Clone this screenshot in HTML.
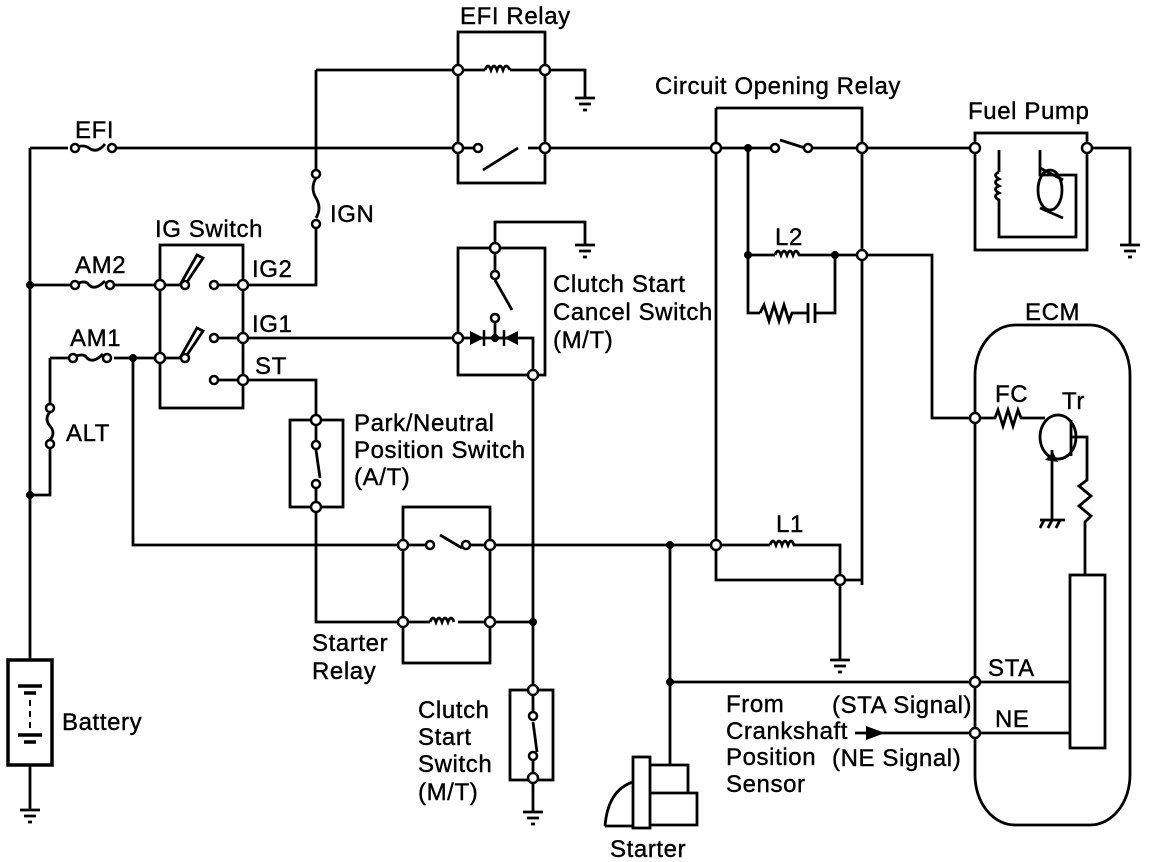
<!DOCTYPE html>
<html><head><meta charset="utf-8"><style>
html,body{margin:0;padding:0;background:#fff;}
svg{display:block;}
text{font-family:"Liberation Sans",Arial,sans-serif;font-size:24px;letter-spacing:0.6px;fill:#000;stroke:#000;stroke-width:0.4px;}
</style></head><body>
<svg width="1152" height="862" viewBox="0 0 1152 862" xmlns="http://www.w3.org/2000/svg">
<g fill="none" stroke="#000" stroke-width="2.8" stroke-linejoin="miter">
<path d="M30 148 V660 M30 765 V810"/>
<path d="M30 148 H68 M116 148 H458"/>
<path d="M75 148 q8 -4 14 0 q8 6 16 -4"/>
<rect x="458" y="32" width="87" height="151"/>
<path d="M316 70 H458 M458 70 H485 M510 70 H545 H585 V98"/>
<path d="M485 70 q3 -8 6 0 q3 -8 6 0 q3 -8 6 0 q3 -8 7 0"/>
<path d="M458 148 H473 M483 170 L518 148 M528 148 H716"/>
<path d="M316 70 V170 M316 220 V285 H243"/>
<path d="M316 178 q-6 10 0 20 q6 10 0 20"/>
<path d="M30 285 H70 M114 285 H160"/>
<path d="M75 285 q10 -6 14 0 q6 6 16 -4"/>
<rect x="160" y="245" width="83" height="163"/>
<path d="M160 285 H180 M180 285 L197 255 L203 258 L185 285"/>
<path d="M218 285 H243 M218 338 H243 M218 380 H243"/>
<path d="M160 358 H180 M180 358 L197 328 L203 331 L185 358"/>
<path d="M50 358 H70 M114 358 H160 M133 358 V545 H403"/>
<path d="M73 358 q10 -6 14 0 q6 6 16 -4"/>
<path d="M50 358 V412 M50 440 V495 H30"/>
<path d="M50 412 q-6 7 0 14 q6 7 0 14"/>
<path d="M243 338 H458"/>
<rect x="458" y="248" width="87" height="127"/>
<path d="M458 338 H533 V375"/>
<path d="M495 248 V222 H585 V245"/>
<path d="M495 248 V270 M495 280 L512 310 M495 322 V338"/>
<path d="M243 380 H316 V420"/>
<rect x="290" y="420" width="53" height="87"/>
<path d="M316 420 V440 M316 450 L320 478 M316 488 V507 V622 H403"/>
<rect x="403" y="507" width="87" height="156"/>
<path d="M403 545 H425 M440 535 L462 548 M462 545 H716"/>
<path d="M403 622 H430 M458 622 H490 H533"/>
<path d="M430 622 q3 -8 6 0 q3 -8 6 0 q3 -8 6 0 q3 -8 6 0"/>
<path d="M533 375 V690 M533 778 V812"/>
<rect x="510" y="690" width="43" height="90"/>
<path d="M533 690 V712 M533 722 L537 752 M533 760 V778"/>
<path d="M670 545 V765 M670 682 H975"/>
<rect x="633" y="757" width="17" height="71"/>
<path d="M650 765 H688 V793 M650 793 H697 V825 H650"/>
<path d="M605 826 H633 M605 826 Q608 790 633 782"/>
<path d="M716 108 H862 V585 M716 108 V580 H862"/>
<path d="M716 148 H770 M780 140 L805 148 M808 148 H975"/>
<path d="M748 148 V313 H760 M748 255 H775 M810 255 H835 H932 V418 H975"/>
<path d="M775 255 q3 -8 6 0 q3 -8 6 0 q3 -8 6 0 q3 -8 6 0 H810"/>
<path d="M835 255 V313 H815 M760 313 l4 -8 l5 16 l5 -16 l5 16 l5 -16 l5 16 l3 -8 H808 M808 303 V323 M815 303 V323"/>
<path d="M716 545 H770 M805 545 H840 V660"/>
<path d="M770 545 q3 -8 6 0 q3 -8 6 0 q3 -8 6 0 q3 -8 6 0 H805"/>
<rect x="975" y="133" width="112" height="117"/>
<path d="M1087 148 H1130 V245"/>
<path d="M999 150 V172 M999 205 V237 H1076 V175 H1040 V150"/>
<path d="M999 172 q-7 3 0 7 q-7 3 0 7 q-7 3 0 7 q-7 3 0 7 V205"/>
<ellipse cx="1050" cy="190" rx="12" ry="20"/>
<path d="M1040 168 L1063 180 M1040 208 L1063 218"/>
<rect x="975" y="325" width="155" height="500" rx="40" ry="50"/>
<path d="M975 418 H995 l3 -8 l5 16 l5 -16 l5 16 l5 -16 l3 8 H1045"/>
<ellipse cx="1058" cy="437" rx="18" ry="22"/>
<path d="M1071 420 V456 M1071 437 H1087 V480 l-8 6 l12 10 l-12 10 l12 10 l-6 6 V575"/>
<path d="M1052 450 V520 M1040 520 H1065 M1044 520 l-4 8 M1052 520 l-4 8 M1060 520 l-4 8"/>
<rect x="1070" y="575" width="35" height="173"/>
<path d="M855 733 H1070 M975 682 H1070"/>
</g>
<g stroke="#000" stroke-width="2.8">
<path d="M575 98 H595 M579 104 H591 M583 110 H587"/>
<path d="M575 245 H595 M579 251 H591 M583 257 H587"/>
<path d="M1120 245 H1140 M1124 251 H1136 M1128 257 H1132"/>
<path d="M830 660 H850 M834 666 H846 M838 672 H842"/>
<path d="M20 810 H40 M24 816 H36 M28 822 H32"/>
<path d="M523 812 H543 M527 818 H539 M531 824 H535"/>
</g>
<rect x="8" y="660" width="44" height="105" fill="none" stroke="#000" stroke-width="3.5"/>
<path d="M18 686 H42 M24 693 H36 M18 735 H42 M24 742 H36" stroke="#000" stroke-width="3.5" fill="none"/>
<path d="M30 700 V730" stroke="#000" stroke-width="2" stroke-dasharray="6 5" fill="none"/>
<path d="M470 331 L470 345 L484 338 Z M518 331 L518 345 L504 338 Z" fill="#000"/>
<path d="M484 330 V346 M504 330 V346" stroke="#000" stroke-width="2.5"/>
<path d="M885 733 L866 726 L866 740 Z" fill="#000"/>
<path d="M1045 460 l8 -8 l5 10 Z" fill="#000"/>
<g fill="#000">
<circle cx="30" cy="285" r="4"/><circle cx="30" cy="495" r="4"/><circle cx="133" cy="358" r="4"/>
<circle cx="495" cy="338" r="4"/><circle cx="533" cy="622" r="4"/><circle cx="670" cy="545" r="4"/>
<circle cx="670" cy="682" r="4"/><circle cx="748" cy="148" r="4"/><circle cx="748" cy="255" r="4"/><circle cx="835" cy="255" r="4"/>
</g>
<g fill="#fff" stroke="#000" stroke-width="2.5">
<circle cx="75" cy="148" r="4"/><circle cx="112" cy="148" r="4"/>
<circle cx="75" cy="285" r="4"/><circle cx="110" cy="285" r="4"/>
<circle cx="73" cy="358" r="4"/><circle cx="107" cy="358" r="4"/>
<circle cx="50" cy="408" r="4"/><circle cx="50" cy="444" r="4"/>
<circle cx="316" cy="174" r="4"/><circle cx="316" cy="224" r="4"/>
<circle cx="458" cy="70" r="5"/><circle cx="545" cy="70" r="5"/><circle cx="458" cy="148" r="5"/><circle cx="545" cy="148" r="5"/><circle cx="478" cy="148" r="4"/>
<circle cx="160" cy="285" r="5"/><circle cx="160" cy="358" r="5"/><circle cx="185" cy="285" r="4"/><circle cx="185" cy="358" r="4"/>
<circle cx="214" cy="285" r="4"/><circle cx="214" cy="338" r="4"/><circle cx="214" cy="380" r="4"/>
<circle cx="243" cy="285" r="5"/><circle cx="243" cy="338" r="5"/><circle cx="243" cy="380" r="5"/>
<circle cx="458" cy="338" r="5"/><circle cx="495" cy="248" r="5"/><circle cx="495" cy="275" r="4"/><circle cx="495" cy="318" r="4"/><circle cx="533" cy="375" r="5"/>
<circle cx="316" cy="420" r="5"/><circle cx="316" cy="445" r="4"/><circle cx="316" cy="484" r="4"/><circle cx="316" cy="507" r="5"/>
<circle cx="403" cy="545" r="5"/><circle cx="430" cy="545" r="4"/><circle cx="466" cy="545" r="4"/><circle cx="490" cy="545" r="5"/>
<circle cx="403" cy="622" r="5"/><circle cx="490" cy="622" r="5"/>
<circle cx="533" cy="690" r="5"/><circle cx="533" cy="716" r="4"/><circle cx="533" cy="756" r="4"/><circle cx="533" cy="778" r="5"/>
<circle cx="716" cy="148" r="5"/><circle cx="775" cy="148" r="4"/><circle cx="808" cy="148" r="4"/><circle cx="862" cy="148" r="5"/>
<circle cx="862" cy="255" r="5"/><circle cx="716" cy="545" r="5"/><circle cx="840" cy="580" r="5"/>
<circle cx="975" cy="148" r="5"/><circle cx="1087" cy="148" r="5"/>
<circle cx="975" cy="418" r="5"/><circle cx="975" cy="682" r="5"/><circle cx="975" cy="733" r="5"/>
</g>
<text x="460" y="24">EFI Relay</text>
<text x="75" y="138">EFI</text>
<text x="330" y="222">IGN</text>
<text x="155" y="237">IG Switch</text>
<text x="75" y="273">AM2</text>
<text x="70" y="346">AM1</text>
<text x="66" y="441">ALT</text>
<text x="252" y="277">IG2</text>
<text x="252" y="332">IG1</text>
<text x="255" y="374">ST</text>
<text x="553" y="292">Clutch Start</text>
<text x="553" y="320">Cancel Switch</text>
<text x="553" y="348">(M/T)</text>
<text x="354" y="431">Park/Neutral</text>
<text x="354" y="458">Position Switch</text>
<text x="354" y="485">(A/T)</text>
<text x="312" y="651">Starter</text>
<text x="312" y="679">Relay</text>
<text x="62" y="730">Battery</text>
<text x="418" y="718">Clutch</text>
<text x="418" y="745">Start</text>
<text x="418" y="772">Switch</text>
<text x="418" y="800">(M/T)</text>
<text x="610" y="857">Starter</text>
<text x="655" y="94">Circuit Opening Relay</text>
<text x="968" y="119">Fuel Pump</text>
<text x="775" y="245">L2</text>
<text x="776" y="532">L1</text>
<text x="1025" y="320">ECM</text>
<text x="995" y="402">FC</text>
<text x="1062" y="409">Tr</text>
<text x="988" y="676">STA</text>
<text x="995" y="727">NE</text>
<text x="726" y="712">From</text>
<text x="726" y="739">Crankshaft</text>
<text x="726" y="765">Position</text>
<text x="726" y="792">Sensor</text>
<text x="832" y="713">(STA Signal)</text>
<text x="832" y="766">(NE Signal)</text>
</svg>
</body></html>
